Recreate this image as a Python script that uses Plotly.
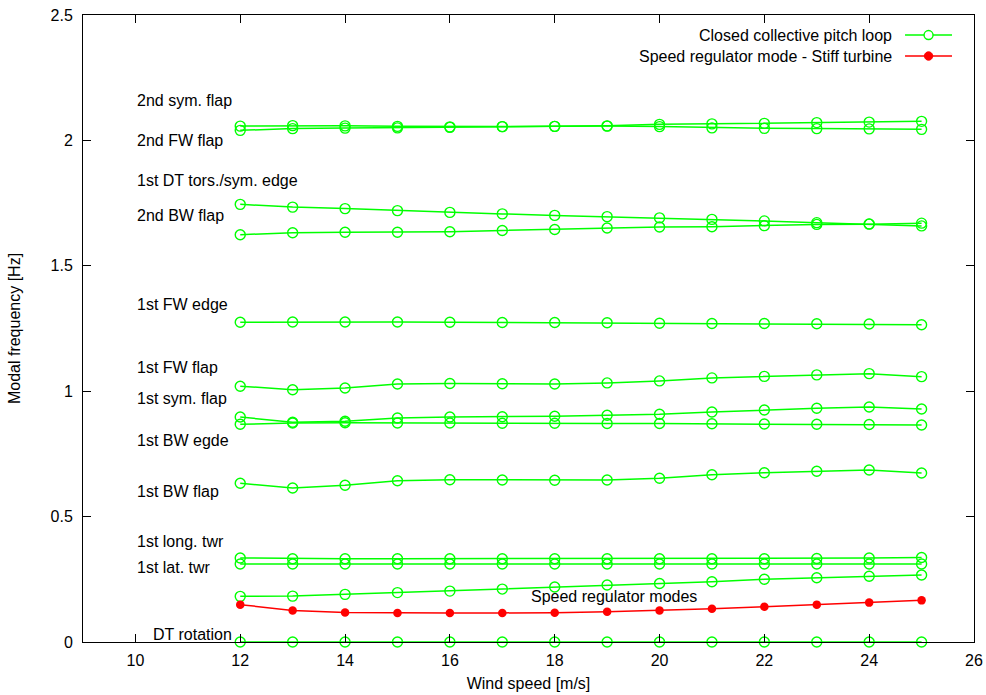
import plotly.graph_objects as go

wind = [12, 13, 14, 15, 16, 17, 18, 19, 20, 21, 22, 23, 24, 25]

# Closed collective pitch loop modes (Hz)
sym_flap_2 = [2.057, 2.059, 2.058, 2.056, 2.054, 2.055, 2.056, 2.057, 2.055, 2.050, 2.048, 2.047, 2.046, 2.044]
fw_flap_2 = [2.040, 2.047, 2.049, 2.050, 2.052, 2.055, 2.056, 2.058, 2.064, 2.066, 2.068, 2.071, 2.073, 2.076]
dt_tors_1 = [1.745, 1.734, 1.728, 1.720, 1.713, 1.707, 1.701, 1.696, 1.691, 1.685, 1.679, 1.672, 1.667, 1.659]
bw_flap_2 = [1.624, 1.632, 1.634, 1.634, 1.636, 1.641, 1.645, 1.651, 1.655, 1.656, 1.660, 1.665, 1.666, 1.670]
fw_edge_1 = [1.275, 1.276, 1.276, 1.276, 1.275, 1.274, 1.274, 1.273, 1.271, 1.270, 1.270, 1.269, 1.268, 1.265]
fw_flap_1 = [1.020, 1.006, 1.013, 1.029, 1.031, 1.030, 1.029, 1.033, 1.041, 1.053, 1.059, 1.065, 1.070, 1.058]
sym_flap_1 = [0.897, 0.876, 0.880, 0.893, 0.897, 0.898, 0.900, 0.904, 0.908, 0.917, 0.925, 0.932, 0.937, 0.929]
bw_edge_1 = [0.868, 0.873, 0.874, 0.873, 0.873, 0.872, 0.872, 0.871, 0.871, 0.870, 0.869, 0.868, 0.867, 0.865]
bw_flap_1 = [0.633, 0.614, 0.625, 0.643, 0.647, 0.646, 0.645, 0.646, 0.653, 0.667, 0.675, 0.681, 0.686, 0.674]
long_twr_1 = [0.335, 0.332, 0.332, 0.332, 0.332, 0.332, 0.332, 0.332, 0.332, 0.332, 0.332, 0.333, 0.335, 0.337]
lat_twr_1 = [0.311, 0.311, 0.311, 0.311, 0.311, 0.311, 0.311, 0.311, 0.311, 0.311, 0.311, 0.311, 0.311, 0.311]
speed_reg = [0.182, 0.183, 0.190, 0.197, 0.203, 0.211, 0.219, 0.227, 0.233, 0.240, 0.250, 0.256, 0.262, 0.267]
dt_rotation = [0, 0, 0, 0, 0, 0, 0, 0, 0, 0, 0, 0, 0, 0]

# Speed regulator mode - stiff turbine (Hz)
stiff_speed_reg = [0.149, 0.126, 0.118, 0.116, 0.116, 0.116, 0.117, 0.121, 0.126, 0.133, 0.141, 0.149, 0.157, 0.166]

green_series = [sym_flap_2, fw_flap_2, dt_tors_1, bw_flap_2, fw_edge_1, fw_flap_1,
                sym_flap_1, bw_edge_1, bw_flap_1, long_twr_1, lat_twr_1, speed_reg, dt_rotation]

label_text = ["2nd sym. flap", "2nd FW flap", "1st DT tors./sym. edge", "2nd BW flap",
              "1st FW edge", "1st FW flap", "1st sym. flap", "1st BW egde", "1st BW flap",
              "1st long. twr", "1st lat. twr", "Speed regulator modes", "DT rotation"]
label_x = [10, 10, 10, 10, 10, 10, 10, 10, 10, 10, 10, 17.5, 10.3]
label_y = [2.16, 2.0, 1.842, 1.699, 1.344, 1.093, 0.969, 0.805, 0.602, 0.399, 0.299, 0.183, 0.028]

legend_names = ["Closed collective pitch loop", "Speed regulator mode - Stiff turbine"]

GREEN = "#00ff00"
RED = "#ff0000"
FONT = "Liberation Sans, Arial, sans-serif"
FS = 16

fig = go.Figure()
for s in green_series:
    fig.add_trace(go.Scatter(
        x=wind, y=s, mode="lines+markers", showlegend=False, cliponaxis=False,
        line=dict(color=GREEN, width=1.5),
        marker=dict(symbol="circle-open", size=10, color=GREEN, line=dict(width=1.4, color=GREEN)),
        name=legend_names[0]))

fig.add_trace(go.Scatter(
    x=wind, y=stiff_speed_reg, mode="lines+markers", showlegend=False, cliponaxis=False,
    line=dict(color=RED, width=1.5),
    marker=dict(symbol="circle", size=8.5, color=RED),
    name=legend_names[1]))

for t, xx, yy in zip(label_text, label_x, label_y):
    fig.add_annotation(x=xx, y=yy, text=t, showarrow=False, xanchor="left", yanchor="middle",
                       font=dict(family=FONT, size=FS, color="black"))

# manual legend (text to the left of the sample, gnuplot style)
leg_y = [0.968, 0.9346]
leg_col = [GREEN, RED]
for name, yy, col, i in zip(legend_names, leg_y, leg_col, range(2)):
    fig.add_annotation(xref="paper", yref="paper", x=0.910, y=yy, text=name, showarrow=False,
                       xanchor="right", yanchor="middle", font=dict(family=FONT, size=FS, color="black"))
    fig.add_shape(type="line", xref="paper", yref="paper", x0=0.9226, x1=0.9753, y0=yy, y1=yy,
                  line=dict(color=col, width=1.5))
    if i == 0:
        fig.add_shape(type="circle", xref="paper", yref="paper", xsizemode="pixel", ysizemode="pixel",
                      xanchor=0.949, yanchor=yy, x0=-4.5, x1=4.5, y0=-4.5, y1=4.5,
                      line=dict(color=col, width=1.4), fillcolor="white")
    else:
        fig.add_shape(type="circle", xref="paper", yref="paper", xsizemode="pixel", ysizemode="pixel",
                      xanchor=0.949, yanchor=yy, x0=-4.2, x1=4.2, y0=-4.2, y1=4.2,
                      line=dict(color=col, width=1), fillcolor=col)

axis_common = dict(showgrid=False, zeroline=False, showline=True, linecolor="black", linewidth=1,
                   mirror="ticks", ticks="inside", ticklen=8, tickcolor="black", tickwidth=1,
                   tickfont=dict(family=FONT, size=FS, color="black"))

fig.update_xaxes(range=[9, 26], tick0=10, dtick=2, ticklabelstandoff=4,
                 title=dict(text="Wind speed [m/s]", font=dict(family=FONT, size=FS, color="black"), standoff=9),
                 **axis_common)
fig.update_yaxes(range=[0, 2.5], tick0=0, dtick=0.5, ticklabelstandoff=6,
                 title=dict(text="Modal frequency [Hz]", font=dict(family=FONT, size=FS, color="black"), standoff=25),
                 **axis_common)

fig.update_layout(width=986, height=695, margin=dict(l=83, r=12, t=15, b=53, autoexpand=False),
                  plot_bgcolor="white", paper_bgcolor="white", showlegend=False,
                  font=dict(family=FONT, size=FS, color="black"))

fig.write_html("out.html", config={"displayModeBar": False},
               post_script="document.body.style.margin='0';document.body.style.overflow='hidden';")
